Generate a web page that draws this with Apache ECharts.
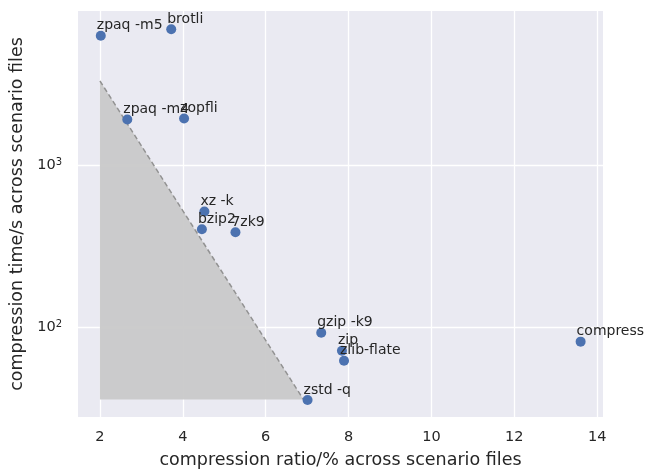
<!DOCTYPE html>
<html>
<head>
<meta charset="utf-8">
<script src="https://cdn.jsdelivr.net/npm/echarts@6/dist/echarts.min.js"></script>
<style>
html,body{margin:0;padding:0;background:#fff;}
#chart{width:646px;height:470px;}
</style>
</head>
<body>
<div id="chart"></div>
<script>
const names = ['zpaq -m5','brotli','zpaq -m4','zopfli','xz -k','bzip2','7zk9','gzip -k9','zip','zlib-flate','zstd -q','compress'];
const ratios = [2.02, 3.72, 2.66, 4.03, 4.52, 4.46, 5.27, 7.34, 7.84, 7.89, 7.01, 13.60];
const times = [6340, 6950, 1930, 1954, 521, 405, 388, 93.1, 72.1, 62.5, 35.8, 82];
const xTicks = [2, 4, 6, 8, 10, 12, 14];
const yTicks = [100, 1000];
const frontier = [[2, 3334], [6.91, 36.1]];
const region = [[2, 3334], [6.91, 36.1], [2, 36.1]];

const FONT = 'DejaVu Sans';
const chart = echarts.init(document.getElementById('chart'));
const points = names.map((n, i) => ({ name: n, value: [ratios[i], times[i]] }));

chart.setOption({
  animation: false,
  textStyle: { fontFamily: FONT },
  grid: { left: 78, top: 11, right: 43, bottom: 53, show: true, backgroundColor: '#EAEAF2', borderWidth: 0, containLabel: false, outerBoundsMode: 'none' },
  xAxis: {
    type: 'value', min: 1.47, max: 14.14,
    name: 'compression ratio/% across scenario files',
    nameLocation: 'middle', nameGap: 34,
    nameTextStyle: { fontSize: 17.5, color: '#262626', fontFamily: FONT },
    axisLine: { show: false }, axisTick: { show: false, customValues: xTicks },
    axisLabel: { customValues: xTicks, fontSize: 14.5, color: '#262626', margin: 13, fontFamily: FONT },
    splitLine: { show: true, lineStyle: { color: '#ffffff', width: 1.3 } }
  },
  yAxis: {
    type: 'log', logBase: 10, min: 28.1, max: 9016,
    name: 'compression time/s across scenario files',
    nameLocation: 'middle', nameGap: 50,
    nameTextStyle: { fontSize: 17.5, color: '#262626', fontFamily: FONT },
    axisLine: { show: false }, axisTick: { show: false, customValues: yTicks },
    axisLabel: {
      customValues: yTicks, margin: 16, color: '#262626', fontFamily: FONT,
      formatter: v => '{b|10}{s|' + Math.round(Math.log10(v)) + '}',
      rich: {
        b: { fontSize: 14.5, color: '#262626', fontFamily: FONT },
        s: { fontSize: 10, color: '#262626', fontFamily: FONT, verticalAlign: 'bottom', padding: [0, 0, 7, 0] }
      }
    },
    splitLine: { show: true, lineStyle: { color: '#ffffff', width: 1.3 } },
    minorTick: { show: false }, minorSplitLine: { show: false }
  },
  series: [
    {
      type: 'custom', z: 1, silent: true,
      data: [0],
      renderItem: (params, api) => ({
        type: 'polygon',
        shape: { points: region.map(p => api.coord(p)) },
        style: { fill: '#C9C9C9', opacity: 0.95 }
      })
    },
    {
      type: 'line', z: 2, silent: true, symbol: 'none',
      data: frontier,
      lineStyle: { color: '#929292', width: 1.5, type: [5, 3] }
    },
    {
      type: 'scatter', z: 3, symbolSize: 10,
      itemStyle: { color: '#4C72B0', opacity: 1 },
      data: points,
      label: {
        show: true, formatter: p => p.name,
        position: [1, 2], align: 'left', verticalAlign: 'bottom',
        fontSize: 14, color: '#262626', fontFamily: FONT
      },
      labelLayout: { hideOverlap: false }
    }
  ]
});
</script>
</body>
</html>
